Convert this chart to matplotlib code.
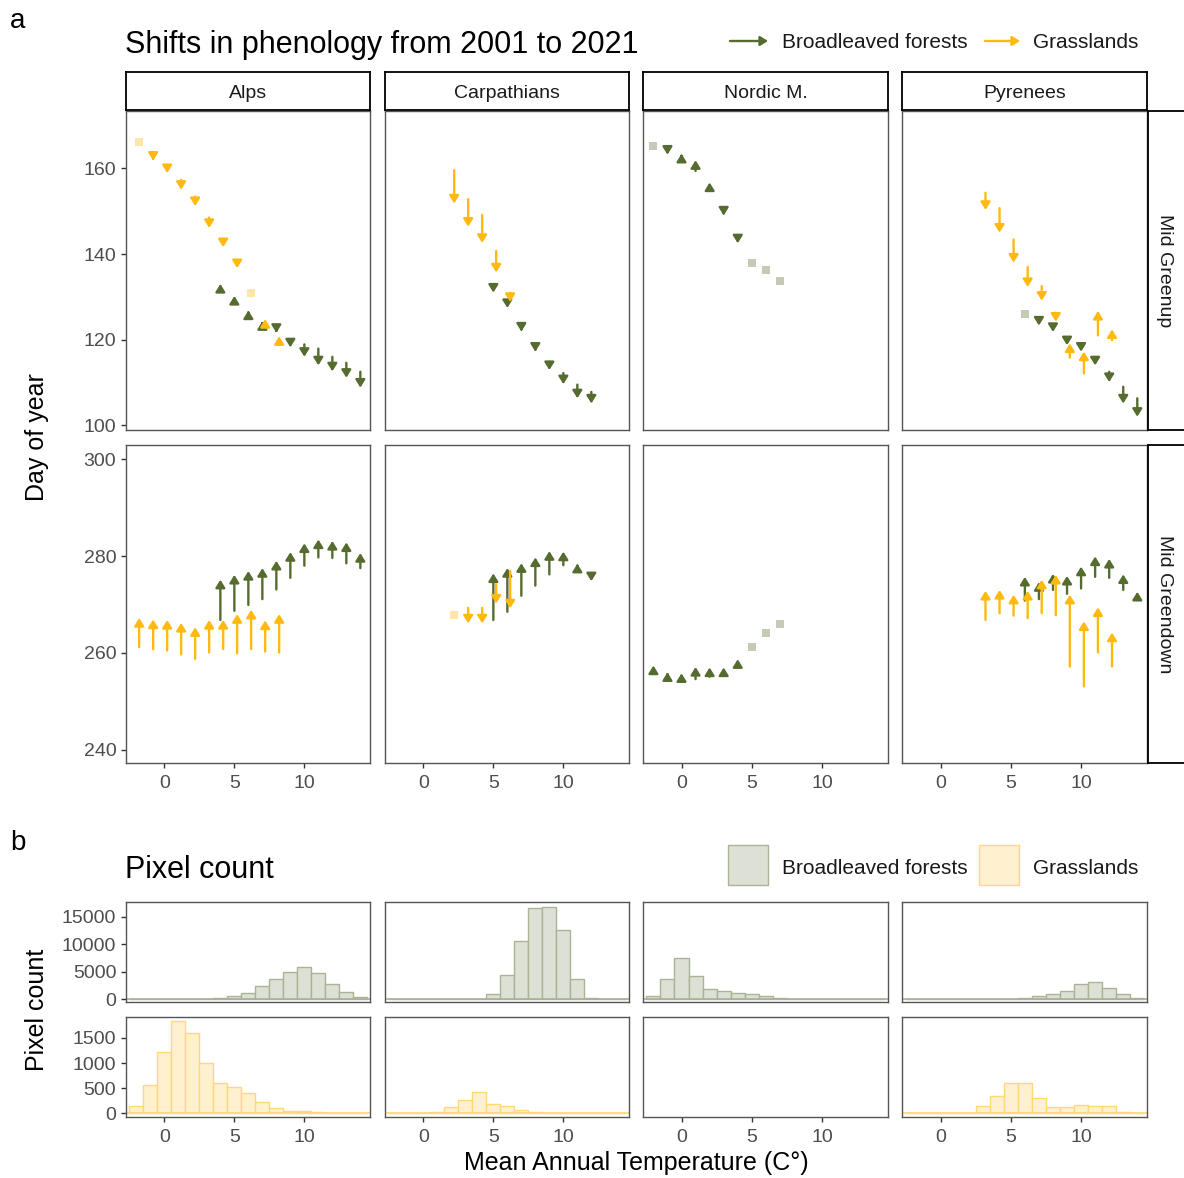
import matplotlib
matplotlib.use("Agg")
import matplotlib.pyplot as plt
from matplotlib.patches import FancyArrowPatch, Rectangle

plt.rcParams['font.family'] = ['Liberation Sans', 'DejaVu Sans']

# ---- data -----------------------------------------------------------------
regions = ["Alps", "Carpathians", "Nordic M.", "Pyrenees"]
phases = ["Mid Greenup", "Mid Greendown"]

# (temperature bin, DOY 2001, DOY 2021)
alps_up_forest = [(4, 131.8, 133.0), (5, 129.0, 130.2), (6, 126.0, 126.8), (7, 123.6, 124.3),
                  (8, 122.3, 121.6), (9, 120.0, 118.2), (10, 118.9, 116.0), (11, 117.9, 114.0),
                  (12, 116.0, 112.6), (13, 114.6, 111.1), (14, 112.5, 108.8)]
alps_up_grass = [(-1, 162.8, 161.8), (0, 160.0, 158.9), (1, 157.3, 155.0), (2, 153.4, 151.2),
                 (3, 148.5, 146.1), (4, 143.0, 141.6), (5, 138.1, 136.7), (7, 123.6, 124.8),
                 (8, 119.3, 120.8)]
alps_down_forest = [(4, 266.8, 275.1), (5, 268.7, 276.1), (6, 269.9, 276.9), (7, 271.1, 277.5),
                    (8, 273.1, 279.0), (9, 275.5, 280.8), (10, 278.0, 282.6), (11, 279.7, 283.4),
                    (12, 279.6, 283.1), (13, 278.5, 282.8), (14, 277.5, 280.6)]
alps_down_grass = [(-2, 261.2, 267.2), (-1, 260.8, 266.9), (0, 260.5, 266.8), (1, 259.7, 266.2),
                   (2, 258.8, 265.3), (3, 260.1, 266.8), (4, 260.8, 266.8), (5, 259.9, 268.0),
                   (6, 260.8, 268.9), (7, 260.3, 266.7), (8, 260.1, 268.0)]

carp_up_forest = [(5, 132.6, 131.0), (6, 128.5, 127.4), (7, 122.9, 121.9), (8, 118.2, 117.2),
                  (9, 114.8, 112.9), (10, 112.2, 109.6), (11, 109.5, 106.3), (12, 107.8, 105.1)]
carp_up_grass = [(2, 159.6, 151.8), (3, 152.8, 146.4), (4, 149.1, 142.6), (5, 140.7, 135.7),
                 (6, 130.9, 128.8)]
carp_down_forest = [(5, 266.8, 276.4), (6, 268.5, 277.5), (7, 271.8, 278.5), (8, 273.9, 279.7),
                    (9, 276.2, 281.0), (10, 278.1, 280.9), (11, 277.6, 278.4), (12, 275.9, 274.8)]
carp_down_grass = [(3, 269.3, 266.1), (4, 269.3, 266.1), (5, 274.2, 270.2), (6, 276.9, 269.2)]

nord_up_forest = [(-1, 164.3, 163.2), (0, 162.6, 163.4), (1, 159.4, 161.9), (2, 155.4, 156.7),
                  (3, 150.0, 149.0), (4, 143.9, 142.5)]
nord_up_grass = []
nord_down_forest = [(-2, 255.8, 257.4), (-1, 255.2, 256.0), (0, 254.7, 255.8), (1, 254.6, 257.1),
                    (2, 255.1, 257.0), (3, 256.0, 257.0), (4, 257.7, 258.7)]
nord_down_grass = []

pyr_up_forest = [(7, 124.7, 123.3), (8, 123.5, 121.8), (9, 120.4, 118.7), (10, 118.6, 117.2),
                 (11, 115.5, 114.0), (12, 112.5, 110.1), (13, 109.0, 105.1), (14, 106.3, 102.0)]
pyr_up_grass = [(3, 154.3, 150.3), (4, 150.7, 145.0), (5, 143.4, 138.0), (6, 137.0, 132.3),
                (7, 132.5, 129.1), (8, 126.3, 124.2), (9, 115.8, 119.1), (10, 112.1, 117.2),
                (11, 121.0, 126.7), (12, 119.9, 122.4)]
pyr_down_forest = [(6, 270.8, 275.7), (7, 271.1, 274.6), (8, 273.0, 276.3), (9, 272.2, 275.9),
                   (10, 273.3, 277.8), (11, 275.7, 279.9), (12, 275.5, 279.4), (13, 273.0, 276.2),
                   (14, 271.5, 272.6)]
pyr_down_grass = [(3, 266.8, 272.8), (4, 268.2, 273.0), (5, 267.7, 272.0), (6, 267.2, 272.8),
                  (7, 268.2, 275.1), (8, 267.8, 276.1), (9, 257.2, 272.0), (10, 253.1, 266.5),
                  (11, 260.1, 269.4), (12, 257.2, 264.2)]

# single-value bins (temperature bin, DOY)
alps_up_grass_sq = [(-2, 166.2), (6, 130.8)]
carp_down_grass_sq = [(2, 267.8)]
nord_up_forest_sq = [(-2, 165.2), (5, 137.9), (6, 136.2), (7, 133.7)]
nord_down_forest_sq = [(5, 261.3), (6, 264.2), (7, 266.0)]
pyr_up_forest_sq = [(6, 125.9)]

# pixel counts per 1 degree bin
temp_bins = list(range(-2, 15))
alps_forest_n = [0, 0, 20, 30, 50, 100, 240, 540, 1200, 2400, 3700, 4900, 5800, 4800, 2800, 1400, 360]
carp_forest_n = [0, 0, 0, 0, 0, 0, 120, 900, 4460, 10660, 16690, 16870, 12590, 3730, 180, 0, 0]
nord_forest_n = [540, 3730, 7530, 4280, 1930, 1510, 1140, 960, 660, 300, 120, 0, 0, 0, 0, 0, 0]
pyr_forest_n = [0, 0, 0, 0, 0, 30, 60, 120, 240, 600, 900, 1570, 2770, 3130, 2110, 900, 300]
alps_grass_n = [158, 573, 1219, 1845, 1594, 1001, 606, 527, 415, 230, 112, 59, 46, 20, 13, 5, 3]
carp_grass_n = [2, 3, 13, 33, 138, 270, 435, 191, 152, 72, 33, 13, 7, 3, 2, 1, 1]
nord_grass_n = [0] * 17
pyr_grass_n = [2, 3, 4, 5, 13, 152, 349, 600, 600, 310, 132, 132, 165, 152, 145, 33, 7]

arrows = {
    ("Alps", 0): (alps_up_forest, alps_up_grass), ("Alps", 1): (alps_down_forest, alps_down_grass),
    ("Carpathians", 0): (carp_up_forest, carp_up_grass), ("Carpathians", 1): (carp_down_forest, carp_down_grass),
    ("Nordic M.", 0): (nord_up_forest, nord_up_grass), ("Nordic M.", 1): (nord_down_forest, nord_down_grass),
    ("Pyrenees", 0): (pyr_up_forest, pyr_up_grass), ("Pyrenees", 1): (pyr_down_forest, pyr_down_grass),
}
squares = {
    ("Alps", 0): ([], alps_up_grass_sq), ("Carpathians", 1): ([], carp_down_grass_sq),
    ("Nordic M.", 0): (nord_up_forest_sq, []), ("Nordic M.", 1): (nord_down_forest_sq, []),
    ("Pyrenees", 0): (pyr_up_forest_sq, []),
}
forest_counts = [alps_forest_n, carp_forest_n, nord_forest_n, pyr_forest_n]
grass_counts = [alps_grass_n, carp_grass_n, nord_grass_n, pyr_grass_n]

# ---- style ----------------------------------------------------------------
olive = "#556B2F"
gold = "#FFB90F"
olive_light = "#C3CBB6"
gold_light = "#FFE6A8"
forest_fill, forest_edge = "#DDE1D5", "#A9B396"
grass_fill, grass_edge = "#FFF1CF", "#FFD978"

W, H = 1184, 1178
fig = plt.figure(figsize=(W / 100, H / 100), dpi=100)


def box(x0, y0, x1, y1):
    return [x0 / W, 1 - y1 / H, (x1 - x0) / W, (y1 - y0) / H]


def ftext(x, y, s, **kw):
    fig.text(x / W, 1 - y / H, s, **kw)


col_x = [(126, 370), (385, 629), (643, 888), (902, 1147)]
row_y = [(111, 430), (445, 763)]
ylims = [(98.9, 173.4), (237.3, 302.9)]
yticks = [[100, 120, 140, 160], [240, 260, 280, 300]]
xlim = (-2.74, 14.69)


def style_axis(ax, show_x, show_y):
    for s in ax.spines.values():
        s.set_color("#555555")
        s.set_linewidth(1.0)
    ax.tick_params(direction="out", length=3.5, width=1, color="#333333",
                   labelcolor="#4D4D4D", labelsize=14)
    ax.tick_params(axis="x", pad=5)
    ax.set_xticks([0, 5, 10])
    if not show_x:
        ax.tick_params(axis="x", bottom=False, labelbottom=False)
    if not show_y:
        ax.tick_params(axis="y", left=False, labelleft=False)


def draw_arrows(ax, rows, color, dx):
    for x, a, b in rows:
        ax.add_patch(FancyArrowPatch((x + dx, a), (x + dx, b),
                                     arrowstyle="-|>,head_length=0.45,head_width=0.28",
                                     mutation_scale=10, color=color, lw=1.7,
                                     shrinkA=0, shrinkB=0))


# ---- panel a --------------------------------------------------------------
for j, reg in enumerate(regions):
    x0, x1 = col_x[j]
    for i in range(2):
        y0, y1 = row_y[i]
        ax = fig.add_axes(box(x0, y0, x1, y1))
        forest, grass = arrows[(reg, i)]
        fsq, gsq = squares.get((reg, i), ([], []))
        if fsq:
            ax.scatter([p[0] for p in fsq], [p[1] for p in fsq], marker="s", s=38,
                       color=olive_light, linewidths=0, zorder=2)
        if gsq:
            ax.scatter([p[0] + 0.2 for p in gsq], [p[1] for p in gsq], marker="s", s=38,
                       color=gold_light, linewidths=0, zorder=2)
        draw_arrows(ax, forest, olive, 0.0)
        draw_arrows(ax, grass, gold, 0.2)
        ax.set_xlim(*xlim)
        ax.set_ylim(*ylims[i])
        ax.set_yticks(yticks[i])
        style_axis(ax, i == 1, j == 0)
    # top strip
    st = fig.add_axes(box(x0, 72, x1, 110))
    st.set_xticks([])
    st.set_yticks([])
    for s in st.spines.values():
        s.set_color("black")
        s.set_linewidth(1.3)
    st.text(0.5, 0.5, reg, ha="center", va="center_baseline", fontsize=14, color="#1A1A1A",
            transform=st.transAxes)

for i in range(2):
    y0, y1 = row_y[i]
    st = fig.add_axes(box(1148, y0, 1200, y1))
    st.set_xticks([])
    st.set_yticks([])
    for s in st.spines.values():
        s.set_color("black")
        s.set_linewidth(1.3)
    ftext(1165, (y0 + y1) / 2, phases[i], rotation=270, ha="center", va="center",
          fontsize=14, color="#1A1A1A")

ftext(10, 18, "a", fontsize=20, va="center_baseline", ha="left")
ftext(125, 42, "Shifts in phenology from 2001 to 2021", fontsize=22, va="center_baseline",
      ha="left")
ftext(37, 437, "Day of year", rotation=90, fontsize=18, ha="center", va="center")

for (xa, xb, col, label, xt) in [(730, 768, olive, "Broadleaved forests", 782),
                                 (985, 1020, gold, "Grasslands", 1033)]:
    fig.add_artist(FancyArrowPatch((xa / W, 1 - 41 / H), (xb / W, 1 - 41 / H),
                                   transform=fig.transFigure,
                                   arrowstyle="-|>,head_length=0.45,head_width=0.28",
                                   mutation_scale=10, color=col, lw=1.7,
                                   shrinkA=0, shrinkB=0))
    ftext(xt, 41, label, fontsize=15, va="center_baseline", ha="left", color="#1A1A1A")

# ---- panel b --------------------------------------------------------------
hist_rows = [(902, 1002), (1017, 1117)]
hist_ylims = [(-500, 17730), (-70, 1915)]
hist_ticks = [[0, 5000, 10000, 15000], [0, 500, 1000, 1500]]
for j in range(4):
    x0, x1 = col_x[j]
    for i, (counts, fc, ec) in enumerate([(forest_counts[j], forest_fill, forest_edge),
                                          (grass_counts[j], grass_fill, grass_edge)]):
        y0, y1 = hist_rows[i]
        ax = fig.add_axes(box(x0, y0, x1, y1))
        if any(counts):
            ax.bar(temp_bins, counts, width=1.0, color=fc, edgecolor=ec, linewidth=1.0)
            ax.axhline(0, color=ec, lw=1.2)
        ax.set_xlim(*xlim)
        ax.set_ylim(*hist_ylims[i])
        ax.set_yticks(hist_ticks[i])
        style_axis(ax, i == 1, j == 0)

ftext(10, 840, "b", fontsize=20, va="center_baseline", ha="left")
ftext(125, 866, "Pixel count", fontsize=22, va="center_baseline", ha="left")
ftext(37, 1010, "Pixel count", rotation=90, fontsize=18, ha="center", va="center")
ftext(636, 1163, "Mean Annual Temperature (C°)", fontsize=18, ha="center", va="center")

for (xa, fc, ec, label, xt) in [(728, forest_fill, forest_edge, "Broadleaved forests", 782),
                                (979, grass_fill, grass_edge, "Grasslands", 1033)]:
    fig.add_artist(Rectangle((xa / W, 1 - 885 / H), 40 / W, 40 / H, transform=fig.transFigure,
                             facecolor=fc, edgecolor=ec, linewidth=1.0))
    ftext(xt, 866, label, fontsize=15, va="center_baseline", ha="left", color="#1A1A1A")

fig.savefig("out.png", dpi=100)
